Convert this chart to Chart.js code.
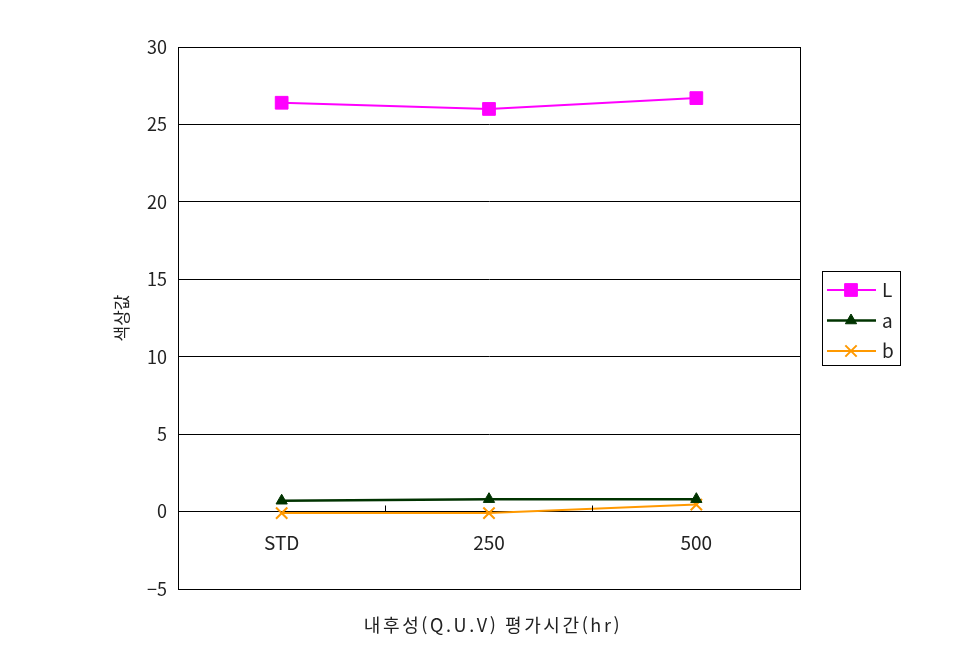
<!DOCTYPE html>
<html lang="ko">
<head>
    <meta charset="UTF-8">
    <title>내후성 평가 색상값</title>
    <style>
        body { margin: 0; background: #fff; }
        #wrap { width: 969px; height: 669px; }
    </style>
</head>
<body>
    <div id="wrap">
        <canvas id="chart" width="969" height="669"></canvas>
    </div>

    <script src="https://cdn.jsdelivr.net/npm/chart.js"></script>
    <script>
        // data
        const categories = ['STD', '250', '500'];
        const valuesL = [26.4, 26.0, 26.7];
        const valuesA = [0.7, 0.8, 0.8];
        const valuesB = [-0.1, -0.1, 0.45];
        const yTicks = [-5, 0, 5, 10, 15, 20, 25, 30];
        const xTitle = '내후성(Q.U.V) 평가시간(hr)';

        const fontFamily = '"Noto Sans CJK KR", "DejaVu Sans", sans-serif';

        // pixel snap like chart.js does for 1px lines
        const snap = p => Math.round(p - 0.5) + 0.5;

        // frame round the plot area, small inner ticks between categories, x title
        const framePlugin = {
            id: 'frame',
            afterDraw(chart) {
                const { ctx, chartArea: a, scales } = chart;
                ctx.save();
                ctx.strokeStyle = '#000';
                ctx.lineWidth = 1;
                const l = snap(a.left), r = snap(a.right);
                const t = snap(scales.y.getPixelForValue(30)), b = snap(scales.y.getPixelForValue(-5));
                ctx.strokeRect(l, t, r - l, b - t);
                const y0 = snap(scales.y.getPixelForValue(0));
                for (let i = 1; i < categories.length; i++) {
                    const x = snap((scales.x.getPixelForValue(i - 1) + scales.x.getPixelForValue(i)) / 2);
                    ctx.beginPath();
                    ctx.moveTo(x, y0);
                    ctx.lineTo(x, y0 - 6);
                    ctx.stroke();
                }
                // x axis title
                ctx.fillStyle = '#222';
                ctx.font = '18px ' + fontFamily;
                ctx.letterSpacing = '2.6px';
                ctx.textAlign = 'center';
                ctx.textBaseline = 'middle';
                ctx.fillText(xTitle, (a.left + a.right) / 2 + 4, a.bottom + 36);
                ctx.restore();
            }
        };

        // boxed legend on the right
        const legendPlugin = {
            id: 'boxLegend',
            afterDraw(chart) {
                const { ctx, chartArea: a } = chart;
                const left = Math.round(a.right) + 22, width = 78, height = 94;
                const top = Math.round((a.top + a.bottom) / 2 - height / 2);
                ctx.save();
                ctx.strokeStyle = '#000';
                ctx.lineWidth = 1;
                ctx.strokeRect(left + 0.5, top + 0.5, width, height);
                const rows = [19, 49.5, 80];
                chart.data.datasets.forEach((ds, i) => {
                    const y = top + rows[i];
                    ctx.strokeStyle = ds.borderColor;
                    ctx.lineWidth = ds.borderWidth;
                    ctx.beginPath();
                    ctx.moveTo(left + 5, y);
                    ctx.lineTo(left + 54, y);
                    ctx.stroke();
                    ctx.fillStyle = ds.pointBackgroundColor;
                    ctx.strokeStyle = ds.pointBorderColor;
                    ctx.lineWidth = ds.pointBorderWidth;
                    Chart.helpers.drawPoint(ctx, {
                        pointStyle: ds.pointStyle,
                        radius: ds.pointRadius,
                        rotation: 0,
                        borderWidth: ds.pointBorderWidth
                    }, left + 29, y);
                    ctx.fillStyle = '#222';
                    ctx.font = '19px ' + fontFamily;
                    ctx.textBaseline = 'middle';
                    ctx.textAlign = 'left';
                    ctx.fillText(ds.label, left + 60, y);
                });
                ctx.restore();
            }
        };

        new Chart(document.getElementById('chart'), {
            type: 'line',
            data: {
                labels: categories,
                datasets: [
                    {
                        label: 'L',
                        data: valuesL,
                        borderColor: '#ff00ff',
                        borderWidth: 2,
                        pointStyle: 'rect',
                        pointRadius: 9,
                        pointBackgroundColor: '#ff00ff',
                        pointBorderColor: '#ff00ff',
                        pointBorderWidth: 1
                    },
                    {
                        label: 'a',
                        data: valuesA,
                        borderColor: '#003300',
                        borderWidth: 2.5,
                        pointStyle: 'triangle',
                        pointRadius: 6.5,
                        pointBackgroundColor: '#003300',
                        pointBorderColor: '#003300',
                        pointBorderWidth: 1
                    },
                    {
                        label: 'b',
                        data: valuesB,
                        borderColor: '#ff9900',
                        borderWidth: 2,
                        pointStyle: 'crossRot',
                        pointRadius: 8,
                        pointBackgroundColor: '#ff9900',
                        pointBorderColor: '#ff9900',
                        pointBorderWidth: 2
                    }
                ]
            },
            options: {
                responsive: false,
                animation: false,
                events: [],
                layout: { padding: { left: 0, right: 169, top: 47, bottom: 80 } },
                elements: { line: { tension: 0 } },
                plugins: {
                    legend: { display: false },
                    tooltip: { enabled: false }
                },
                scales: {
                    x: {
                        type: 'category',
                        position: { y: 0 },
                        offset: true,
                        grid: { display: false, drawTicks: false },
                        border: { display: true, color: '#000', width: 1 },
                        ticks: {
                            color: '#222',
                            padding: 20,
                            maxRotation: 0,
                            font: { family: fontFamily, size: 19 }
                        }
                    },
                    y: {
                        min: -5,
                        max: 30,
                        afterFit(scale) { scale.width = 178; },
                        afterBuildTicks(scale) { scale.ticks = yTicks.map(v => ({ value: v })); },
                        grid: { color: '#000', lineWidth: 1, drawTicks: false },
                        border: { display: true, color: '#000', width: 1 },
                        ticks: {
                            color: '#222',
                            padding: 11,
                            font: { family: fontFamily, size: 18 },
                            callback: v => (v < 0 ? '\u2212' + Math.abs(v) : String(v))
                        },
                        title: {
                            display: true,
                            text: '색상값',
                            color: '#222',
                            font: { family: fontFamily, size: 17, weight: 'normal' },
                            padding: { top: 111, bottom: 0 }
                        }
                    }
                }
            },
            plugins: [framePlugin, legendPlugin]
        });
    </script>
</body>
</html>
